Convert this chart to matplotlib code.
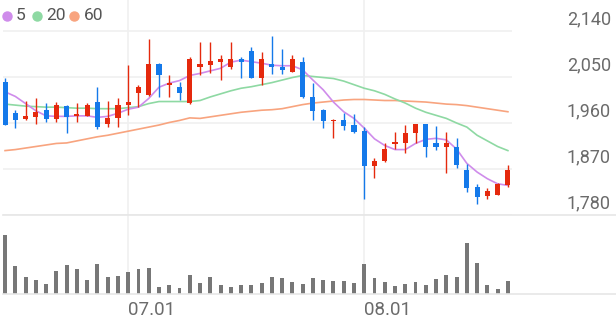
import matplotlib
matplotlib.use('Agg')
import matplotlib.pyplot as plt
from matplotlib.lines import Line2D
from matplotlib import transforms
import numpy as np

# daily candles (open, high, low, close), last 50 sessions
opens = [2041, 1979, 1968, 1971, 1985, 1968, 1994, 1974, 1974, 2002,
         1959, 1969, 1995, 2019, 2014, 2075, 2034, 2030, 1999, 2070,
         2074, 2079, 2070, 2085, 2100, 2049, 2075, 2070, 2060, 2080,
         2010, 1985, 1964, 1965, 1956, 1944, 1875, 1886, 1918, 1921,
         1940, 1959, 1920, 1913, 1914, 1868, 1835, 1818, 1820, 1839]
highs = [2049, 1985, 2004, 2009, 2000, 2001, 1995, 2000, 2000, 2030,
         2003, 2008, 2074, 2034, 2124, 2077, 2054, 2040, 2089, 2119,
         2118, 2094, 2119, 2089, 2109, 2098, 2130, 2104, 2094, 2089,
         2039, 1987, 1967, 1979, 1977, 1952, 1891, 1920, 1943, 1957,
         1959, 1959, 1954, 1942, 1930, 1879, 1840, 1833, 1842, 1877]
lows = [1956, 1950, 1965, 1959, 1962, 1961, 1940, 1962, 1973, 1949,
        1953, 1953, 1976, 1992, 2013, 2011, 2010, 2005, 1998, 2054,
        2058, 2045, 2066, 2049, 2048, 2035, 2055, 2055, 2060, 2008,
        1966, 1950, 1930, 1946, 1941, 1811, 1852, 1884, 1909, 1902,
        1920, 1893, 1907, 1863, 1871, 1825, 1802, 1811, 1820, 1835]
closes = [1957, 1965, 1973, 1982, 1967, 1995, 1971, 1977, 1995, 1952,
          1970, 1995, 2001, 2030, 2075, 2054, 2038, 2019, 2085, 2076,
          2081, 2085, 2085, 2079, 2049, 2085, 2070, 2064, 2085, 2010,
          1984, 1963, 1966, 1954, 1943, 1875, 1885, 1909, 1922, 1941,
          1959, 1914, 1913, 1920, 1877, 1833, 1815, 1826, 1841, 1869]

ma5 = [2021, 2012, 1998, 1984, 1974, 1973, 1973, 1974, 1974, 1971,
       1973, 1979, 1987, 1991, 2008, 2030, 2038, 2043, 2053, 2057,
       2062, 2067, 2079, 2083, 2080, 2077, 2073, 2072, 2072, 2064,
       2044, 2025, 2001, 1982, 1969, 1950, 1929, 1916, 1908, 1908,
       1920, 1928, 1930, 1927, 1909, 1881, 1864, 1851, 1841, 1838]
ma20 = [1997, 1995, 1993, 1992, 1991, 1991, 1990, 1989, 1989, 1988,
        1988, 1988, 1990, 1992, 1998, 2002, 2002, 2002, 2002, 2004,
        2011, 2017, 2023, 2028, 2031, 2035, 2039, 2044, 2049, 2053,
        2051, 2049, 2047, 2042, 2035, 2028, 2023, 2016, 2007, 1999,
        1989, 1981, 1975, 1969, 1960, 1952, 1936, 1925, 1914, 1906]
ma60 = [1906, 1908, 1911, 1914, 1917, 1920, 1921, 1925, 1929, 1933,
        1936, 1940, 1944, 1948, 1952, 1956, 1961, 1965, 1970, 1969,
        1972, 1975, 1978, 1981, 1983, 1985, 1986, 1988, 1992, 1996,
        1999, 2001, 2003, 2005, 2006, 2006, 2005, 2004, 2004, 2003,
        2002, 2001, 1999, 1997, 1996, 1994, 1991, 1988, 1985, 1982]

volume = [177, 85, 50, 42, 31, 68, 86, 74, 43, 91,
          52, 55, 66, 75, 77, 21, 26, 18, 57, 32,
          51, 27, 22, 28, 28, 33, 51, 48, 37, 31,
          48, 43, 39, 39, 33, 90, 49, 36, 25, 31,
          35, 27, 45, 57, 52, 152, 92, 27, 15, 39]

date_ticks = [12, 35]
date_labels = ['07.01', '08.01']
price_ticks = [1780, 1870, 1960, 2050, 2140]

UP = '#e5290d'
DOWN = '#1479ea'
C5, C20, C60 = '#cf8ceb', '#8ed9a3', '#f8a47f'
GRID = '#f0f0f0'
TXT = '#6b6b6b'
FONT = ['Roboto', 'DejaVu Sans']

W, H = 616, 321
fig = plt.figure(figsize=(W / 100, H / 100), dpi=100)

def frac(x0, y0, x1, y1):
    # pixel box (top-left origin) -> figure fraction rect
    return [x0 / W, 1 - y1 / H, (x1 - x0) / W, (y1 - y0) / H]

ax = fig.add_axes(frac(3, 0, 512, 215))
axv = fig.add_axes(frac(3, 215, 512, 294), sharex=ax)

x = np.arange(len(closes))
o = np.array(opens)
c = np.array(closes)
colors = [UP if cc >= oo else DOWN for oo, cc in zip(o, c)]

# price panel
for p in price_ticks:
    ax.axhline(p, color=GRID, lw=1.2, zorder=0)
for t in date_ticks:
    ax.axvline(t, color=GRID, lw=1.2, zorder=0)
    axv.axvline(t, color=GRID, lw=1.2, zorder=0)

ax.plot(x, ma60, color=C60, lw=1.2, zorder=2)
ax.plot(x, ma20, color=C20, lw=1.2, zorder=2)
ax.plot(x, ma5, color=C5, lw=1.2, zorder=2)

ax.vlines(x, lows, highs, colors=colors, lw=1.0, zorder=3)
body_h = np.maximum(np.abs(c - o), 1.2)
ax.bar(x, body_h, bottom=np.minimum(o, c), width=0.5, color=colors, zorder=4)

px_per = 90 / 46
ax.set_ylim(1780, 2140 + 31 * px_per)
ax.set_xlim(-0.2, 49.4)
ax.axis('off')

# price labels on the right, sitting just above their grid lines
tr = transforms.blended_transform_factory(fig.transFigure, ax.transData)
tr = transforms.offset_copy(tr, fig=fig, y=6.5, units='dots')
for p in price_ticks:
    fig.text(611 / W, p, f'{p:,}', transform=tr, ha='right', va='baseline',
             fontsize=13, color=TXT, family=FONT)

# volume panel
axv.bar(x, volume, width=0.38, color='#777777', zorder=3)
axv.set_ylim(0, 237)
for s in axv.spines.values():
    s.set_visible(False)
axv.set_yticks([])
axv.set_xticks(date_ticks)
axv.set_xticklabels(date_labels, fontsize=13.5, color=TXT, family=FONT)
axv.tick_params(axis='x', length=0, pad=5)
for lab in axv.get_xticklabels():
    lab.set_ha('left')

# separator lines spanning to the right edge
for yy in (215, 294):
    fig.add_artist(Line2D([3 / W, 1], [1 - yy / H, 1 - yy / H],
                          transform=fig.transFigure, color='#e6e6e6', lw=1.2))

# legend
for cx, tx, col, lab in [(6.7, 16, C5, '5'), (36.7, 46.5, C20, '20'), (74, 83.5, C60, '60')]:
    fig.add_artist(Line2D([cx / W], [1 - 15.7 / H], transform=fig.transFigure,
                          marker='o', ms=6.5, color=col, lw=0))
    fig.text(tx / W, 1 - 15.7 / H, lab, ha='left', va='center', fontsize=12.5,
             color='#555555', family=FONT)

fig.savefig('out.png', dpi=100, facecolor='white')
